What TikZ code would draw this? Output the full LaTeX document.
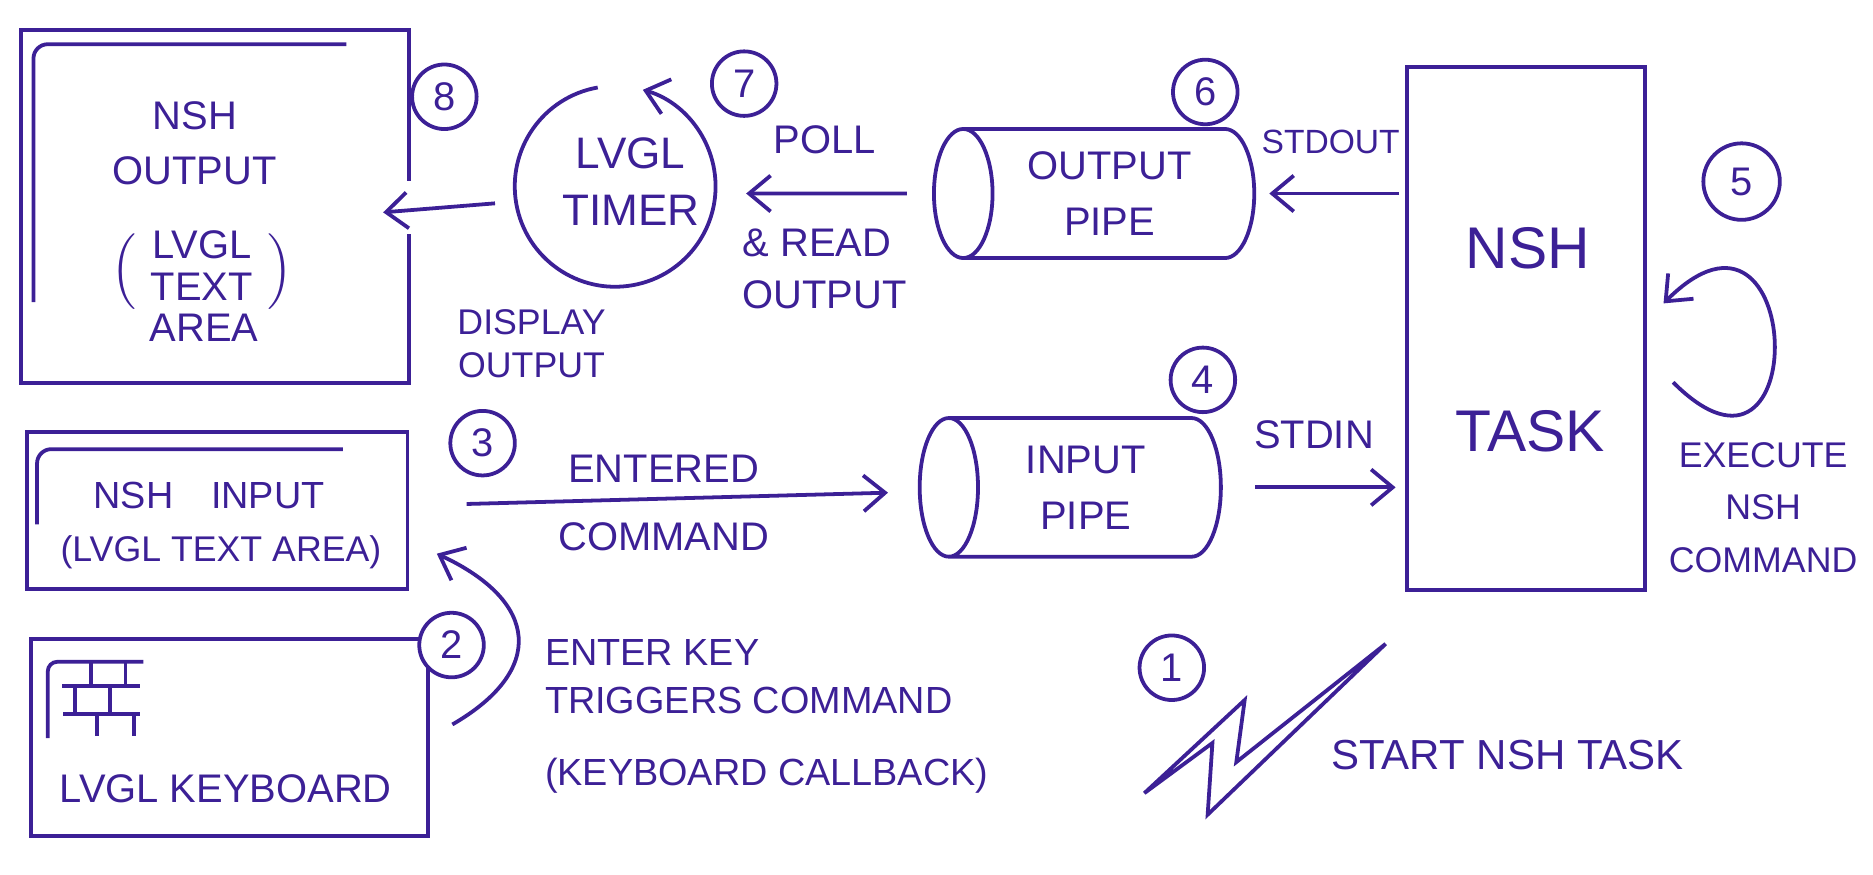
\documentclass[tikz,border=0pt]{standalone}
\usepackage{fontspec}
\setmainfont{Liberation Sans}
\usepackage{tikz}
\usetikzlibrary{arrows.meta,positioning,shapes.geometric}
\definecolor{ink}{HTML}{3C2096}

\begin{document}
\begin{tikzpicture}[x=0.01cm, y=-0.01cm, line width=0.9pt, color=ink,
    >={Straight Barb[length=1.8mm,width=3mm]},
    every node/.style={font=\fontsize{9.5}{12}\selectfont},
    box/.style={rectangle, draw, inner sep=0pt},
    pipe/.style={cylinder, shape border rotate=180, aspect=0.7, draw, align=center, inner sep=0pt},
    num/.style={circle, draw, fill=white, inner sep=0pt, minimum size=0.54cm}]
  \useasboundingbox (0,0) rectangle (1568,732.5);

  % NSH output text area
  \node[minimum width=3.22cm, minimum height=2.92cm, inner sep=0pt] (outbox) at (180,173) {};
  \draw ([yshift=-1.26cm]outbox.north east) -- (outbox.north east) -- (outbox.north west)
        -- (outbox.south west) -- (outbox.south east) -- ([yshift=1.25cm]outbox.south east);
  \draw[rounded corners=0.12cm] (290,37) -- (28,37) -- (28,253);
  \node[align=center, font=\fontsize{9.5}{13}\selectfont] (outlbl) at (163,120) {NSH\\OUTPUT};
  \node[font=\fontsize{9.5}{10}\selectfont, inner sep=0pt] (outarea) at (169,227) {$\Big(\begin{tabular}{@{\hspace{0.12cm}}c@{\hspace{0.12cm}}}LVGL\\TEXT\end{tabular}\Big)$};
  \node (outarea2) at (171,274) {AREA};
  \node[num] (n8) at (372,81) {8};

  % LVGL timer
  \node[circle, minimum size=1.68cm, inner sep=0pt] (timer) at (515,156) {};
  \draw[->] ([shift={(100:0.84cm)}]timer.center) arc[start angle=100, end angle=434, radius=0.84cm];
  \node[align=center, font=\fontsize{10.5}{13.6}\selectfont] (timerlbl) at (528,152) {LVGL\\TIMER};
  \node[num] (n7) at (623,70) {7};
  \draw[->, shorten <=0.15cm, shorten >=-0.22cm] ([yshift=-0.13cm]timer.west) -- ([yshift=-0.03cm]outbox.east);
  \node[align=center, font=\fontsize{8.5}{10.2}\selectfont] (displbl) at (445,288) {DISPLAY\\OUTPUT};

  % output pipe
  \node[pipe, minimum height=2.68cm, minimum width=1.08cm, font=\fontsize{9.5}{13.3}\selectfont] (opipe) at (929,162) {OUTPUT\\PIPE};
  \node[num] (n6) at (1009,77) {6};
  \draw[->, shorten <=0.21cm, shorten >=0.24cm] (opipe) -- (opipe -| timer.east)
     node[midway, above=0.2cm] {POLL}
     node[midway, below=0.16cm, align=left, font=\fontsize{9.5}{12.5}\selectfont] {\& READ\\OUTPUT};

  % NSH task
  \node[box, minimum width=1.99cm, minimum height=4.38cm] (task) at (1277.5,275) {};
  \node[font=\fontsize{14}{16}\selectfont] (tasklbl1) at (1279,208) {NSH};
  \node[font=\fontsize{14}{16}\selectfont] (tasklbl2) at (1281,361) {TASK};
  \draw[->, shorten <=0.05cm, shorten >=0.11cm] (task.west |- opipe) -- (opipe)
     node[midway, above=0.2cm, font=\fontsize{8}{10}\selectfont] {STDOUT};
  \node[num, minimum size=0.64cm] (n5) at (1458,152) {5};
  \draw[->, out=-45, in=45, looseness=6.45] ([xshift=0.22cm,yshift=-0.45cm]task.east) to ([xshift=0.14cm,yshift=0.21cm]task.east);
  \node[align=center, font=\fontsize{8.5}{12.6}\selectfont] (execlbl) at (1476,425) {EXECUTE\\NSH\\COMMAND};

  % input pipe
  \node[pipe, minimum height=2.52cm, minimum width=1.16cm, font=\fontsize{9.5}{13.3}\selectfont] (ipipe) at (909,408) {INPUT\\PIPE};
  \node[num] (n4) at (1007,318) {4};
  \draw[->, shorten <=0.27cm, shorten >=0.08cm] (ipipe) -- (ipipe -| task.west)
     node[midway, above=0.19cm] {STDIN};

  % NSH input text area
  \node[box, minimum width=3.18cm, minimum height=1.31cm] (inbox) at (182,427.5) {};
  \draw[rounded corners=0.12cm] (287,376) -- (31,376) -- (31,439);
  \node[font=\fontsize{9}{11}\selectfont] (inlbl) at (175,415) {NSH\quad INPUT};
  \node[font=\fontsize{8.5}{11}\selectfont] (inlbl2) at (185,462) {(LVGL TEXT AREA)};
  \node[num] (n3) at (404,371) {3};
  \draw[->, shorten <=0.48cm, shorten >=0.25cm] (inbox) -- (ipipe)
     node[midway, above] {ENTERED} node[midway, below=0.07cm] {COMMAND};

  % keyboard
  \node[box, minimum width=3.32cm, minimum height=1.65cm] (kbd) at (192,617.5) {};
  \draw[rounded corners=0.08cm] (40,618) -- (40,554) -- (120,554);
  \draw (52,574) -- (117,574) (53,598) -- (117,598)
        (76,554) -- (76,574) (105,554) -- (105,574)
        (63,574) -- (63,598) (92,574) -- (92,598)
        (81,598) -- (81,616) (112,598) -- (112,616);
  \node (kbdlbl) at (189,660) {LVGL KEYBOARD};
  \node[num] (n2) at (378,540) {2};
  \draw[->] ([xshift=0.19cm,yshift=0.11cm]kbd.east) to[out=30, in=-25, out distance=0.9cm, in distance=0.95cm] ([xshift=0.23cm,yshift=-0.36cm]inbox.east);
  \node[anchor=north west, align=left, font=\fontsize{9}{11.4}\selectfont] (enterlbl) at (443,522) {ENTER KEY\\TRIGGERS COMMAND\\[0.2cm](KEYBOARD CALLBACK)};

  % start
  \node[num] (n1) at (981,559) {1};
  \draw (958,664) -- (1042,586) -- (1035,638) -- (1160,539) -- (1011,682) -- (1015,622) -- cycle;
  \node[font=\fontsize{10}{12}\selectfont] (startlbl) at (1262,632) {START NSH TASK};
\end{tikzpicture}
\end{document}
